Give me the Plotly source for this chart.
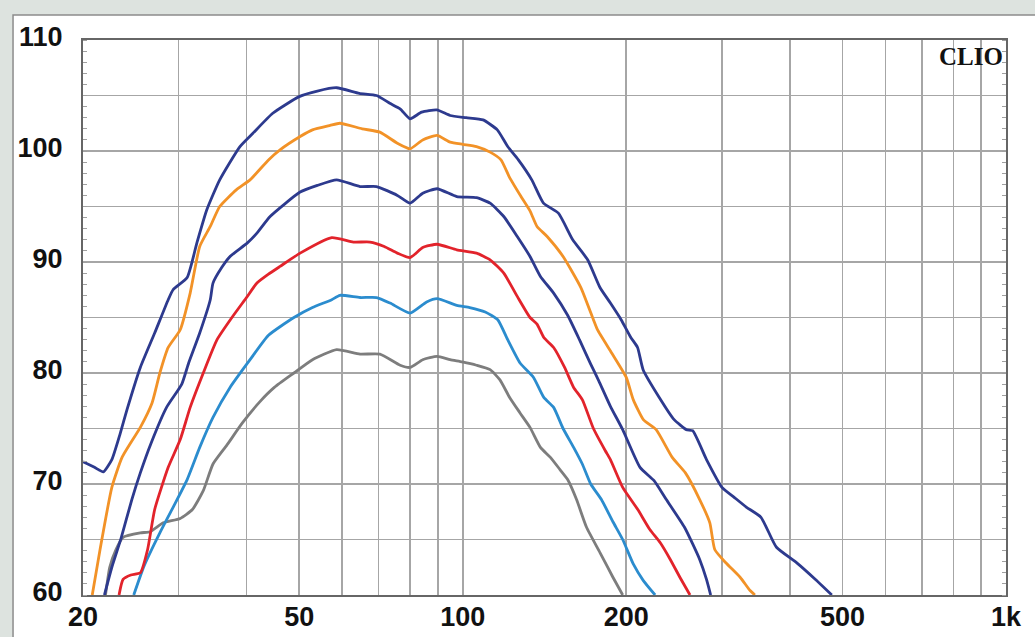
import plotly.graph_objects as go

# ---- data (frequency in Hz, level in dB) ----
f_top = [20, 21.0, 21.8, 22.6, 23.4, 24.1, 25.5, 27.1, 28.7, 29.3, 31.1, 32.4, 33.8, 35.7, 38.9, 41.1, 44.7, 50, 54,
         58.6, 64.5, 69.4, 73.4, 76.7, 80, 84, 89.6, 94.8, 101.5, 109, 115.8, 121, 126.6, 134, 140.8, 150, 159.4,
         169.8, 178.9, 187, 195.7, 203.9, 209.8, 214.8, 230, 245, 258, 265, 281, 300, 316, 333, 354, 378, 412, 446, 478]
db_top = [72.0, 71.5, 71.1, 72.2, 74.5, 76.7, 80.5, 83.6, 86.6, 87.5, 88.6, 91.7, 94.7, 97.4, 100.4, 101.6, 103.4,
          104.9, 105.4, 105.7, 105.2, 105.0, 104.3, 103.8, 102.9, 103.5, 103.7, 103.2, 103.0, 102.8, 101.9, 100.4,
          99.2, 97.4, 95.3, 94.4, 92.0, 90.2, 87.7, 86.3, 84.8, 83.2, 82.3, 80.3, 77.8, 75.8, 74.9, 74.8, 72.2, 69.7,
          68.8, 67.9, 67.0, 64.3, 62.9, 61.4, 60.0]

f_orange = [20.8, 21.5, 22.6, 23.6, 25.5, 26.8, 27.7, 28.7, 30.2, 31.5, 32.8, 34.3, 35.7, 38.3, 40.6, 43.9, 46.1,
            50.2, 52.9, 57, 59.4, 65.3, 70.4, 75.8, 80, 84.4, 89.7, 94.8, 100, 106, 112.3, 117.6, 122, 128, 133,
            137, 143, 153, 165, 174, 177, 188, 200, 206, 215, 227, 243, 257, 273, 285, 291, 305, 324, 338, 345]
db_orange = [60, 64.1, 69.7, 72.4, 75.1, 77.3, 80.0, 82.3, 83.9, 87.2, 91.4, 93.2, 95.0, 96.5, 97.4, 99.2, 100.1,
             101.3, 101.9, 102.3, 102.5, 102.0, 101.7, 100.7, 100.2, 101.0, 101.4, 100.8, 100.6, 100.4, 99.9, 99.2,
             97.6, 95.9, 94.6, 93.2, 92.3, 90.5, 87.7, 84.8, 83.9, 81.8, 79.6, 77.6, 75.8, 74.9, 72.4, 71.0, 68.6,
             66.5, 64.1, 62.9, 61.6, 60.4, 60.0]

f_mid = [21.9, 22.6, 23.5, 24.6, 25.5, 26.7, 28.5, 30.4, 31.3, 32.8, 34.3, 34.7, 36, 37.3, 40.1, 41.8, 44.2, 50.2,
         54, 58.6, 64.7, 69.4, 75.8, 80, 84.4, 89.7, 97.5, 106, 112.3, 119, 126, 133, 139, 147, 156, 164, 172, 178,
         187, 197, 212, 225, 237, 256, 265, 273, 281, 286]
db_mid = [60, 62.5, 65.1, 68.6, 71.0, 73.7, 76.9, 79.0, 80.9, 83.6, 86.6, 88.1, 89.5, 90.5, 91.7, 92.6, 94.1, 96.3,
          96.9, 97.4, 96.8, 96.8, 96.0, 95.3, 96.2, 96.6, 95.9, 95.8, 95.3, 94.1, 92.3, 90.5, 88.7, 87.2, 85.2, 83.0,
          80.8, 79.3, 77.0, 74.9, 71.5, 70.3, 68.6, 66.1, 64.6, 63.2, 61.4, 60.0]

f_red = [23.3, 23.7, 24.5, 25.5, 26.3, 27.1, 28.7, 30.2, 31.5, 33.3, 35.3, 37.6, 40, 41.8, 43.9, 46.1, 50.2, 57.4,
         62.9, 67.5, 71.7, 75.8, 80, 84.4, 89.7, 97.5, 106, 112.3, 119, 126, 133, 137, 141, 147, 154, 160, 166, 174,
         183, 187, 197, 210, 221, 231, 241, 251, 262]
db_red = [60, 61.4, 61.8, 62.0, 64.1, 67.7, 71.5, 74.0, 76.9, 80.0, 83.0, 85.0, 86.8, 88.1, 88.9, 89.6, 90.8, 92.2,
          91.8, 91.8, 91.4, 90.8, 90.4, 91.3, 91.6, 91.1, 90.8, 90.2, 89.0, 86.9, 85.0, 84.4, 83.2, 82.3, 80.5, 78.7,
          77.6, 75.0, 73.0, 72.2, 69.7, 67.7, 65.9, 64.7, 63.2, 61.6, 60.0]

f_light = [24.8, 25.9, 27.7, 29.3, 31.1, 32.8, 34.7, 37.3, 40.6, 43.9, 48.9, 52.9, 57.4, 59.4, 64.7, 69.4, 73.5, 80,
           85.8, 89.7, 97.5, 103, 110, 116, 121, 127.5, 135, 141, 147, 153, 160, 166, 172, 180, 189, 197, 206, 215,
           226]
db_light = [60, 62.6, 65.6, 67.9, 70.4, 73.3, 76.0, 78.7, 81.2, 83.4, 85.0, 85.9, 86.6, 87.0, 86.8, 86.8, 86.3, 85.4,
            86.4, 86.7, 86.1, 85.9, 85.5, 84.8, 83.0, 80.9, 79.6, 77.8, 76.9, 75.0, 73.3, 71.8, 70.0, 68.6, 66.6,
            65.0, 62.8, 61.3, 60.0]

f_gray = [22, 22.4, 23, 23.7, 25.5, 26.6, 28.1, 30.2, 31.8, 33.3, 34.7, 36.8, 39.3, 42.3, 45, 48.9, 52.9, 58.6, 64.7,
          70.4, 76.7, 80, 84.4, 89.7, 94.8, 99.8, 106, 112.3, 117, 122, 127.5, 133, 139, 145, 151, 156, 162, 169,
          179, 189, 197]
db_gray = [60, 62.5, 64.1, 65.2, 65.6, 65.7, 66.5, 66.9, 67.7, 69.4, 71.8, 73.5, 75.5, 77.4, 78.7, 80.0, 81.2, 82.1,
           81.7, 81.7, 80.7, 80.5, 81.2, 81.5, 81.2, 81.0, 80.7, 80.3, 79.4, 77.8, 76.4, 75.1, 73.3, 72.4, 71.3, 70.4,
           68.6, 66.1, 63.8, 61.6, 60.0]

x_grid = [20, 30, 40, 50, 60, 70, 80, 90, 100, 200, 300, 400, 500, 600, 700, 800, 900, 1000]
x_text = ["20", "", "", "50", "", "", "", "", "100", "200", "", "", "500", "", "", "", "", "1k"]
y_grid = [60, 65, 70, 75, 80, 85, 90, 95, 100, 105, 110]
y_text = ["60", "", "70", "", "80", "", "90", "", "100", "", "110"]

series = [
    (f_gray, db_gray, "#7d7d7d"),
    (f_light, db_light, "#2b8cce"),
    (f_red, db_red, "#e2232b"),
    (f_mid, db_mid, "#2d3a8e"),
    (f_orange, db_orange, "#f29227"),
    (f_top, db_top, "#2d3a8e"),
]

fig = go.Figure()
for fx, dy, col in series:
    fig.add_trace(go.Scatter(x=fx, y=dy, mode="lines", line=dict(color=col, width=2.8, shape="spline", smoothing=0.5),
                             showlegend=False, hoverinfo="skip"))

tick_font = dict(family="Liberation Sans, Arial, sans-serif", size=27, color="#111111", weight="bold")

fig.update_layout(
    width=1035, height=637,
    margin=dict(l=83, r=29, t=40, b=42, autoexpand=False),
    paper_bgcolor="#dde3df",
    plot_bgcolor="white",
    xaxis=dict(type="log", range=[1.30103, 3], tickmode="array", tickvals=x_grid, ticktext=x_text,
               showgrid=True, gridcolor="#a6a6a6", gridwidth=1.6, showline=True, linecolor="#666666",
               linewidth=2, mirror=True, ticks="", tickfont=tick_font, zeroline=False, automargin=False,
               ticklabelstandoff=-3),
    yaxis=dict(range=[60, 110], tickmode="array", tickvals=y_grid, ticktext=y_text,
               showgrid=True, gridcolor="#a6a6a6", gridwidth=1.6, showline=True, linecolor="#666666",
               linewidth=2, mirror="allticks", ticks="", tickfont=tick_font, zeroline=False,
               ticklabelstandoff=13, ticklabelshift=-3, automargin=False,
               minor=dict(ticks="inside", ticklen=4, tickcolor="#a0a0a0", tickwidth=1, tickmode="linear",
                          tick0=60, dtick=1, showgrid=False)),
    shapes=[dict(type="rect", xref="paper", yref="paper", x0=-0.0758, x1=1.06, y0=-0.12, y1=1.045,
                 fillcolor="white", line=dict(color="#8c8c8c", width=1.5), layer="below")],
    annotations=[dict(text="CLIO", xref="paper", yref="paper", x=1, y=1, xanchor="right", yanchor="top",
                      xshift=-1, yshift=-1, showarrow=False,
                      font=dict(family="Liberation Serif, DejaVu Serif, serif", size=25, color="#111111",
                                weight="bold"))],
)

fig.write_html("out.html", config={"displayModeBar": False, "staticPlot": True},
               post_script="document.body.style.margin='0';document.body.style.overflow='hidden';"
                           "document.body.style.background='#dde3df';")
